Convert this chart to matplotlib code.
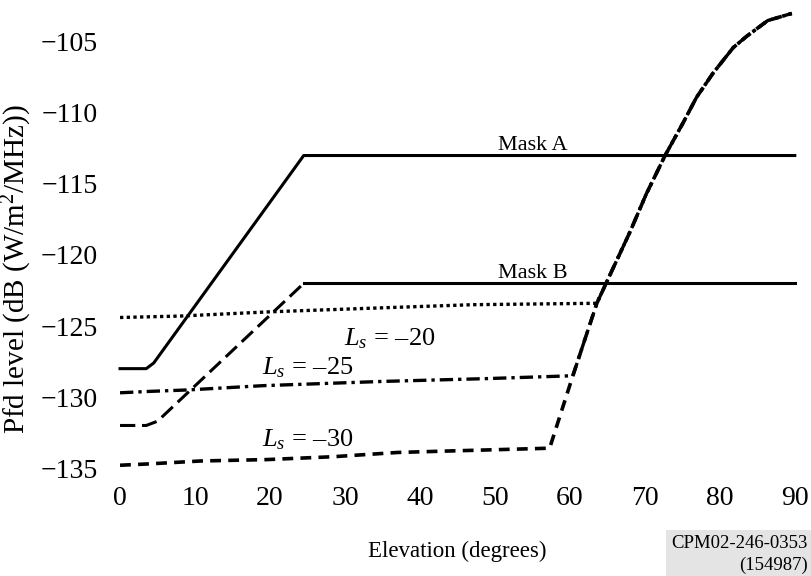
import matplotlib
matplotlib.use("Agg")
import matplotlib.pyplot as plt

plt.rcParams['font.family'] = ['Liberation Serif', 'DejaVu Serif']
plt.rcParams['mathtext.fontset'] = 'custom'
plt.rcParams['mathtext.rm'] = 'Liberation Serif'
plt.rcParams['mathtext.it'] = 'Liberation Serif:italic'

# masks
mask_a_el = [0, 3.5, 4.5, 24.5, 90]
mask_a_pfd = [-128, -128, -127.6, -113, -113]
mask_b_el = [0, 3.5, 5, 24.5, 90]
mask_b_pfd = [-132, -132, -131.7, -122, -122]

# common high-elevation part of the Ls curves
steep_el = [65, 68, 70.2, 72.7, 75.1, 76.9, 79.1, 81.8, 83.6, 86.4, 89.6]
steep_pfd = [-121.8, -118.4, -115.7, -113, -110.7, -108.9, -107.2, -105.4, -104.6, -103.5, -103.0]

ls20_el = [0, 8, 20, 36, 47, 63.6]
ls20_pfd = [-124.4, -124.3, -124.0, -123.7, -123.5, -123.4]
ls25_el = [0, 4, 9, 19, 35, 49, 60.4, 63.6]
ls25_pfd = [-129.7, -129.6, -129.5, -129.2, -128.9, -128.7, -128.5, -123.4]
ls30_el = [0, 4, 10.7, 19.6, 28.4, 37, 43.6, 57.3, 60.4, 63.6]
ls30_pfd = [-134.8, -134.7, -134.5, -134.4, -134.2, -133.9, -133.8, -133.6, -128.5, -123.4]

fig = plt.figure(figsize=(8.11, 5.76), dpi=100)
ax = fig.add_axes([0.148, 0.175, 0.832, 0.814])

ax.plot(mask_a_el, mask_a_pfd, color='black', lw=2.2, clip_on=False)
ax.plot(mask_b_el[:4], mask_b_pfd[:4], color='black', lw=2.2, ls=(0, (5, 2.2)), clip_on=False)
ax.plot(mask_b_el[3:], mask_b_pfd[3:], color='black', lw=2.2, clip_on=False)

ax.plot(ls20_el + steep_el, ls20_pfd + steep_pfd, color='black', lw=2.4, ls=(0, (1, 1)), clip_on=False)
ax.plot(ls25_el + steep_el, ls25_pfd + steep_pfd, color='black', lw=2.4, ls=(0, (4, 1.5, 1, 1.5)), clip_on=False)
ax.plot(ls30_el + steep_el, ls30_pfd + steep_pfd, color='black', lw=2.6, ls=(0, (3, 2)), clip_on=False)

ax.text(55, -112.3, "Mask A", ha='center', va='center', fontsize=16)
ax.text(55, -121.3, "Mask B", ha='center', va='center', fontsize=16)
ax.text(36, -125.9, "$L_s$ = –20", ha='center', va='center', fontsize=19)
ax.text(25, -127.9, "$L_s$ = –25", ha='center', va='center', fontsize=19)
ax.text(25, -133.0, "$L_s$ = –30", ha='center', va='center', fontsize=19)

ax.set_xlim(0, 90)
ax.set_ylim(-135.5, -102.5)
ax.set_xticks(range(0, 91, 10))
ax.set_yticks(range(-135, -104, 5))
ax.set_yticklabels([f"\u2212{abs(v)}" for v in range(-135, -104, 5)])
ax.tick_params(length=0, labelsize=20, pad=16)
ax.tick_params(axis='x', pad=8)
for s in ax.spines.values():
    s.set_visible(False)

ax.set_xlabel("Elevation (degrees)", fontsize=16.5, labelpad=21)
ax.set_ylabel("Pfd level (dB (W/m$^2$/MHz))", fontsize=21)
ax.yaxis.set_label_coords(-0.128, 0.44)

fig.text(0.996, 0.004, "CPM02-246-0353\n(154987)", ha='right', va='bottom',
         fontsize=13.5, multialignment='right', linespacing=1.3,
         bbox=dict(facecolor='#e4e4e4', edgecolor='none', pad=4))

fig.savefig("out.png", dpi=100)
